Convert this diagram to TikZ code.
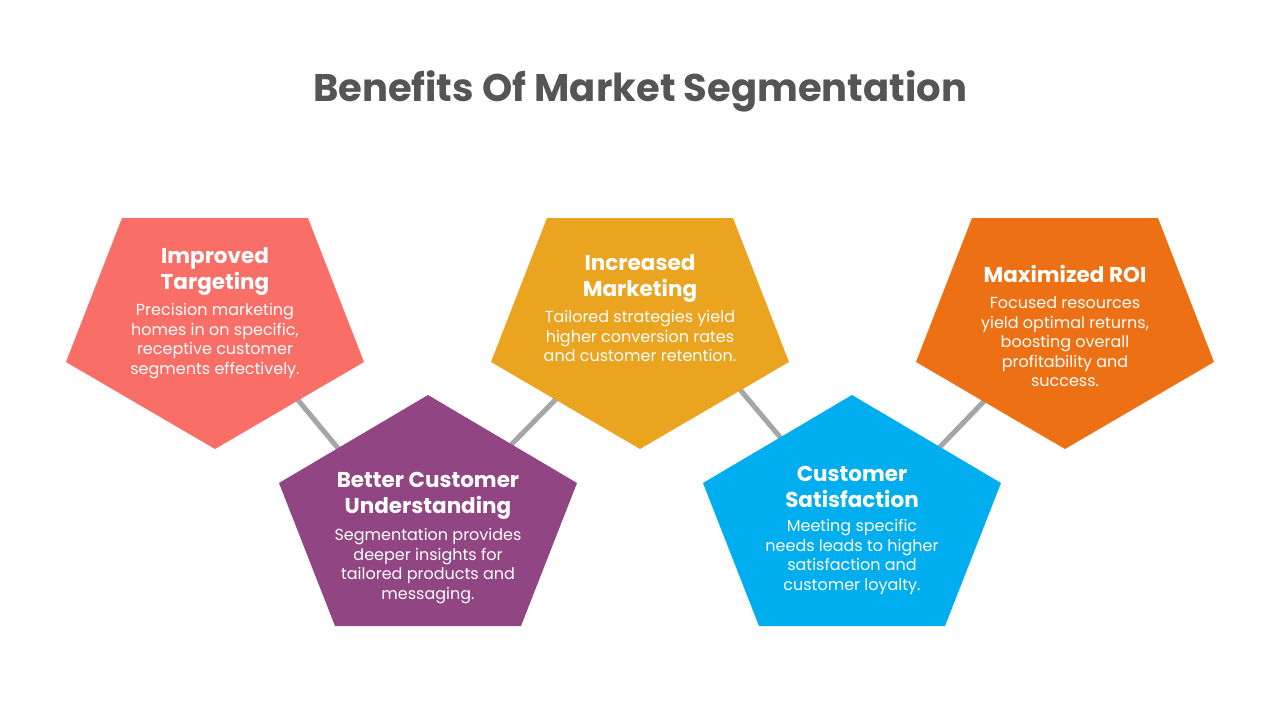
\documentclass[tikz,border=0pt]{standalone}
\usepackage{fontspec}
\setmainfont{Poppins}
\usetikzlibrary{positioning}
\definecolor{coral}{HTML}{FA6E68}
\definecolor{plum}{HTML}{914583}
\definecolor{amber}{HTML}{EAA41F}
\definecolor{sky}{HTML}{00AEEF}
\definecolor{tangerine}{HTML}{ED7114}
\definecolor{titlegray}{HTML}{555555}
\definecolor{linkgray}{HTML}{A6A6A6}
\begin{document}
\begin{tikzpicture}[x=1pt, y=-1pt,
  head/.style={text=white, font=\bfseries\fontsize{21.5}{26}\selectfont, align=center, inner sep=0pt},
  body/.style={text=white, font=\fontsize{16}{19.5}\selectfont, align=center, inner sep=0pt},
  link/.style={draw=linkgray, line width=5pt}]
	\useasboundingbox[fill=white] (0,0) rectangle (1280,720);
	\node[text=titlegray, font=\bfseries\fontsize{38.5}{44}\selectfont] (title) at (640,91) {Benefits Of Market Segmentation};
	% connectors, drawn first so the shapes cover their ends
	\coordinate (l1a) at (293,394); \coordinate (l1b) at (342,453);
	\coordinate (l2a) at (561,394); \coordinate (l2b) at (507,449);
	\coordinate (l3a) at (737,386); \coordinate (l3b) at (785,443);
	\coordinate (l4a) at (989,396); \coordinate (l4b) at (936,451);
	\draw[link] (l1a) -- (l1b);
	\draw[link] (l2a) -- (l2b);
	\draw[link] (l3a) -- (l3b);
	\draw[link] (l4a) -- (l4b);
	% pentagons
	\fill[coral] (122,218) -- (308,218) -- (364,362) -- (215,449) -- (66,362) -- cycle;
	\fill[plum] (428,395) -- (577,483) -- (521,626) -- (335,626) -- (279,483) -- cycle;
	\fill[amber] (547,218) -- (733,218) -- (789,362) -- (640,449) -- (491,362) -- cycle;
	\fill[sky] (852,395) -- (1001,483) -- (945,626) -- (759,626) -- (703,483) -- cycle;
	\fill[tangerine] (972,218) -- (1158,218) -- (1214,362) -- (1065,449) -- (916,362) -- cycle;
	% texts
	\node[head] (t1) at (215,271) {Improved\\Targeting};
	\node[body] (b1) at (215,341) {Precision marketing\\homes in on specific,\\receptive customer\\segments effectively.};
	\node[head] (t2) at (428,496) {Better Customer\\Understanding};
	\node[body] (b2) at (428,566) {Segmentation provides\\deeper insights for\\tailored products and\\messaging.};
	\node[head] (t3) at (640,278) {Increased\\Marketing};
	\node[body] (b3) at (640,336) {Tailored strategies yield\\higher conversion rates\\and customer retention.};
	\node[head] (t4) at (852,487) {Customer\\Satisfaction};
	\node[body] (b4) at (852,557) {Meeting specific\\needs leads to higher\\satisfaction and\\customer loyalty.};
	\node[head] (t5) at (1065,274) {Maximized ROI};
	\node[body] (b5) at (1065,342) {Focused resources\\yield optimal returns,\\boosting overall\\profitability and\\success.};
\end{tikzpicture}
\end{document}
